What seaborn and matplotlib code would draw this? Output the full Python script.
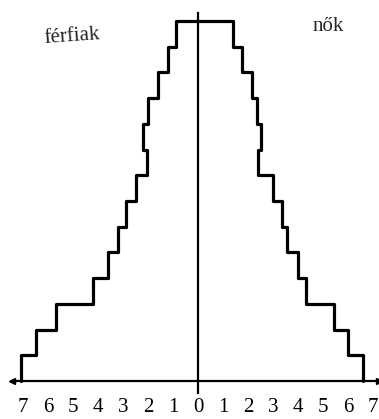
import numpy as np
import pandas as pd
import seaborn as sns
import matplotlib.pyplot as plt

sns.set_style("white")
plt.rcParams['font.family'] = ['Liberation Serif', 'DejaVu Serif']

# band widths from the bottom band (0) up to the top band (13)
men = [7.1, 6.5, 5.7, 4.2, 3.6, 3.2, 2.9, 2.5, 2.05, 2.2, 2.0, 1.6, 1.2, 0.9]
women = [6.6, 6.0, 5.45, 4.3, 4.0, 3.55, 3.35, 3.0, 2.4, 2.5, 2.35, 2.15, 1.75, 1.4]
tick_vals = list(range(-7, 8))
tick_labels = [str(abs(t)) for t in tick_vals]

n = len(men)
# outline path: up the men's side, across the top, down the women's side
px = [-m for m in men] + women[::-1] + [women[0]]
py = list(range(n)) + list(range(n, 0, -1)) + [0]
outline = pd.DataFrame({"x": px, "y": py})

fig = plt.figure(figsize=(3.79, 4.19), dpi=100)
ax = fig.add_axes([0, 0, 1, 1])

sns.lineplot(data=outline, x="x", y="y", sort=False, estimator=None,
             drawstyle="steps-pre", color="black", linewidth=2.3, ax=ax)

ax.set_xlim(-7.92, 7.24)
ax.set_ylim(-1.48, 14.82)

for s in ["top", "right"]:
    ax.spines[s].set_visible(False)
ax.spines["bottom"].set_position(("data", 0))
ax.spines["left"].set_position(("data", 0))
ax.spines["bottom"].set_bounds(-7.45, 7.3)
ax.spines["left"].set_bounds(-0.45, 14.3)
for s in ["bottom", "left"]:
    ax.spines[s].set_linewidth(1.6)
    ax.spines[s].set_color("black")

ax.set_xticks(tick_vals)
ax.set_xticklabels(tick_labels)
ax.set_yticks([])
ax.tick_params(axis="x", direction="out", length=4, width=1.6, pad=8,
               labelsize=15, colors="black")
ax.set_xlabel("")
ax.set_ylabel("")

# arrow heads on the horizontal axis
ax.plot([-7.45], [0], marker="<", color="black", markersize=5, clip_on=False)
ax.plot([7.24], [0], marker=">", color="black", markersize=5, clip_on=False)

ax.text(-5.05, 13.38, "férfiak", fontsize=15, ha="center", va="center",
        rotation=4)
ax.text(5.2, 13.77, "nők", fontsize=15, ha="center", va="center")

fig.savefig("out.png", dpi=100)
